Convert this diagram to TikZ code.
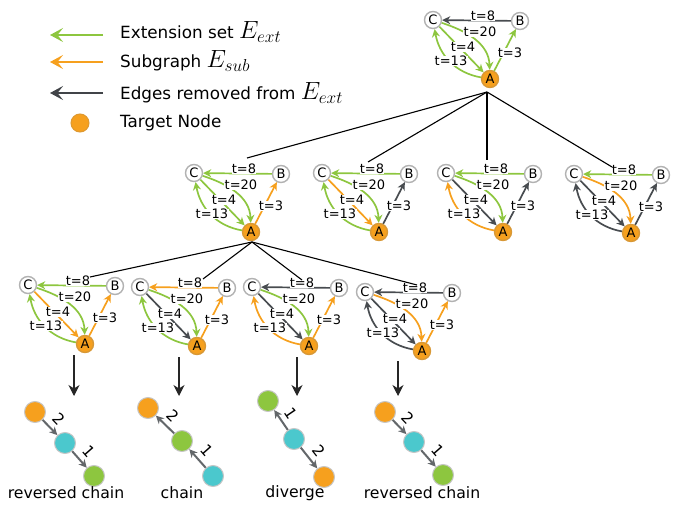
\documentclass[tikz,border=0pt]{standalone}
\usepackage{fontspec}
\setmainfont{DejaVu Sans}
\usetikzlibrary{arrows.meta}
\definecolor{cg}{RGB}{141,198,63}
\definecolor{co}{RGB}{246,160,30}
\definecolor{cd}{RGB}{72,76,80}
\definecolor{cc}{RGB}{75,200,205}
\definecolor{cb}{RGB}{178,178,178}
\tikzset{
 vtx/.style={circle, draw=cb, line width=1.4pt, fill=white, minimum size=17pt, inner sep=0pt, font=\fontsize{13}{13}\selectfont},
 tgt/.style={vtx, fill=co, draw=co!75!gray},
 edge/.style={line width=1.7pt, -{Stealth[length=8pt,width=8pt,inset=2.5pt]}},
 eg/.style={edge, draw=cg}, eo/.style={edge, draw=co}, ed/.style={edge, draw=cd},
 lbl/.style={font=\fontsize{13}{13}\selectfont, fill=white, inner sep=0.3pt},
 tree/.style={line width=1.1pt, black},
 downarr/.style={line width=1.1pt, draw=black!85, -{Stealth[length=11pt,width=11pt,inset=3.5pt]}},
 legarr/.style={line width=1.8pt, -{Stealth[length=13pt,width=14pt,inset=5.5pt]}},
 legtext/.style={anchor=base west, inner sep=0pt, font=\fontsize{16.8}{18}\selectfont},
 cnode/.style={circle, minimum size=21pt, inner sep=0pt, line width=1pt, draw=gray!45},
 cO/.style={cnode, fill=co}, cG/.style={cnode, fill=cg}, cC/.style={cnode, fill=cc},
 cedge/.style={line width=2pt, draw=cd!85, -{Stealth[length=8pt,width=8pt,inset=2.5pt]}},
 clbl/.style={sloped, above=3pt, inner sep=2.5pt, font=\fontsize{15.5}{15.5}\selectfont},
 ctext/.style={font=\fontsize{15.7}{16}\selectfont, inner sep=0pt}
}
\newcommand\drawmotif[7]{%
 \begin{scope}[shift={#2}]
  \node[vtx] (#1C) at (0,0) {C};
  \node[vtx] (#1B) at (87,1) {B};
  \node[tgt] (#1A) at (57,59) {A};
  \draw[#3] (#1B) -- (#1C);
  \draw[#4] (#1C) to[out=-18,in=92] (#1A);
  \draw[#5] (#1C) -- (#1A);
  \draw[#6] (#1A) to[out=170,in=-80] (#1C);
  \draw[#7] (#1A) -- (#1B);
  \node[lbl] (#1l8) at (50,-4) {t=8};
  \node[lbl] (#1l20) at (47,12) {t=20};
  \node[lbl] (#1l4) at (30,27) {t=4};
  \node[lbl] (#1l13) at (18,41) {t=13};
  \node[lbl] (#1l3) at (77,33) {t=3};
 \end{scope}}
\newcommand\mathbig[1]{{\fontsize{26}{26}\selectfont$#1$}}
\begin{document}
\begin{tikzpicture}[x=1pt,y=-1pt]
\useasboundingbox (0,0) rectangle (676,510);
% legend
\coordinate (l1s) at (103,35); \coordinate (l1e) at (50,35);
\coordinate (l2s) at (103,62); \coordinate (l2e) at (50,62);
\coordinate (l3s) at (103,93); \coordinate (l3e) at (50,93);
\draw[legarr, draw=cg] (l1s) -- (l1e);
\draw[legarr, draw=co] (l2s) -- (l2e);
\draw[legarr, draw=cd!90!black] (l3s) -- (l3e);
\node[circle, minimum size=18pt, inner sep=0pt, fill=co, draw=co!80!gray, line width=1pt] (ltn) at (80,123) {};
\node[legtext] (lt1) at (120,39) {Extension set \mathbig{E_{ext}}};
\node[legtext] (lt2) at (120,68) {Subgraph \mathbig{E_{sub}}};
\node[legtext] (lt3) at (120,100) {Edges removed from \mathbig{E_{ext}}};
\node[legtext] (lt4) at (120,128) {Target Node};
% motifs
\drawmotif{t}{(433,20)}{ed}{eg}{eg}{eg}{eg}
\drawmotif{pa}{(194,173)}{eg}{eg}{eg}{eg}{eo}
\drawmotif{pb}{(322,173)}{eg}{eg}{eo}{eg}{ed}
\drawmotif{pc}{(446,173)}{eg}{eg}{ed}{eo}{ed}
\drawmotif{pd}{(574,174)}{eg}{eo}{ed}{ed}{ed}
\drawmotif{qa}{(28,285)}{eg}{eg}{eo}{eg}{eo}
\drawmotif{qb}{(140,287)}{eo}{eg}{ed}{eg}{eo}
\drawmotif{qc}{(252,287)}{ed}{eg}{ed}{eo}{eo}
\drawmotif{qd}{(365,292)}{ed}{eo}{ed}{ed}{eo}
% tree lines
\coordinate (tj) at (487,92);
\coordinate (e1) at (247,158); \coordinate (e2) at (368,162);
\coordinate (e3) at (487,160); \coordinate (e4) at (612,167);
\draw[tree] (tj) -- (e1); \draw[tree] (tj) -- (e2);
\draw[tree] (tj) -- (e3); \draw[tree] (tj) -- (e4);
\coordinate (rj) at (252,242);
\coordinate (f1) at (90,277); \coordinate (f2) at (203,279);
\coordinate (f3) at (302,280); \coordinate (f4) at (417,285);
\draw[tree] (rj) -- (f1); \draw[tree] (rj) -- (f2);
\draw[tree] (rj) -- (f3); \draw[tree] (rj) -- (f4);
% down arrows
\coordinate (d1s) at (74,355); \coordinate (d1e) at (74,396);
\coordinate (d2s) at (179,357); \coordinate (d2e) at (179,396);
\coordinate (d3s) at (297,357); \coordinate (d3e) at (297,396);
\coordinate (d4s) at (398,361); \coordinate (d4e) at (398,396);
\draw[downarr] (d1s) -- (d1e); \draw[downarr] (d2s) -- (d2e);
\draw[downarr] (d3s) -- (d3e); \draw[downarr] (d4s) -- (d4e);
% chains
\node[cO] (c1o) at (35,412) {}; \node[cC] (c1c) at (65,443) {}; \node[cG] (c1g) at (94,476) {};
\draw[cedge] (c1o) -- node[clbl] (c1l2) {2} (c1c);
\draw[cedge] (c1c) -- node[clbl] (c1l1) {1} (c1g);
\node[ctext] (c1t) at (66,493) {reversed chain};
\node[cO] (c2o) at (148,408) {}; \node[cG] (c2g) at (182,441) {}; \node[cC] (c2c) at (213,476) {};
\draw[cedge] (c2c) -- node[clbl] (c2l1) {1} (c2g);
\draw[cedge] (c2g) -- node[clbl] (c2l2) {2} (c2o);
\node[ctext] (c2t) at (182,493) {chain};
\node[cG] (c3g) at (268,401) {}; \node[cC] (c3c) at (294,439) {}; \node[cO] (c3o) at (324,477) {};
\draw[cedge] (c3c) -- node[clbl] (c3l1) {1} (c3g);
\draw[cedge] (c3c) -- node[clbl] (c3l2) {2} (c3o);
\node[ctext] (c3t) at (295,493) {diverge};
\node[cO] (c4o) at (385,412) {}; \node[cC] (c4c) at (414,442) {}; \node[cG] (c4g) at (443,475) {};
\draw[cedge] (c4o) -- node[clbl] (c4l2) {2} (c4c);
\draw[cedge] (c4c) -- node[clbl] (c4l1) {1} (c4g);
\node[ctext] (c4t) at (422,493) {reversed chain};
\end{tikzpicture}
\end{document}
